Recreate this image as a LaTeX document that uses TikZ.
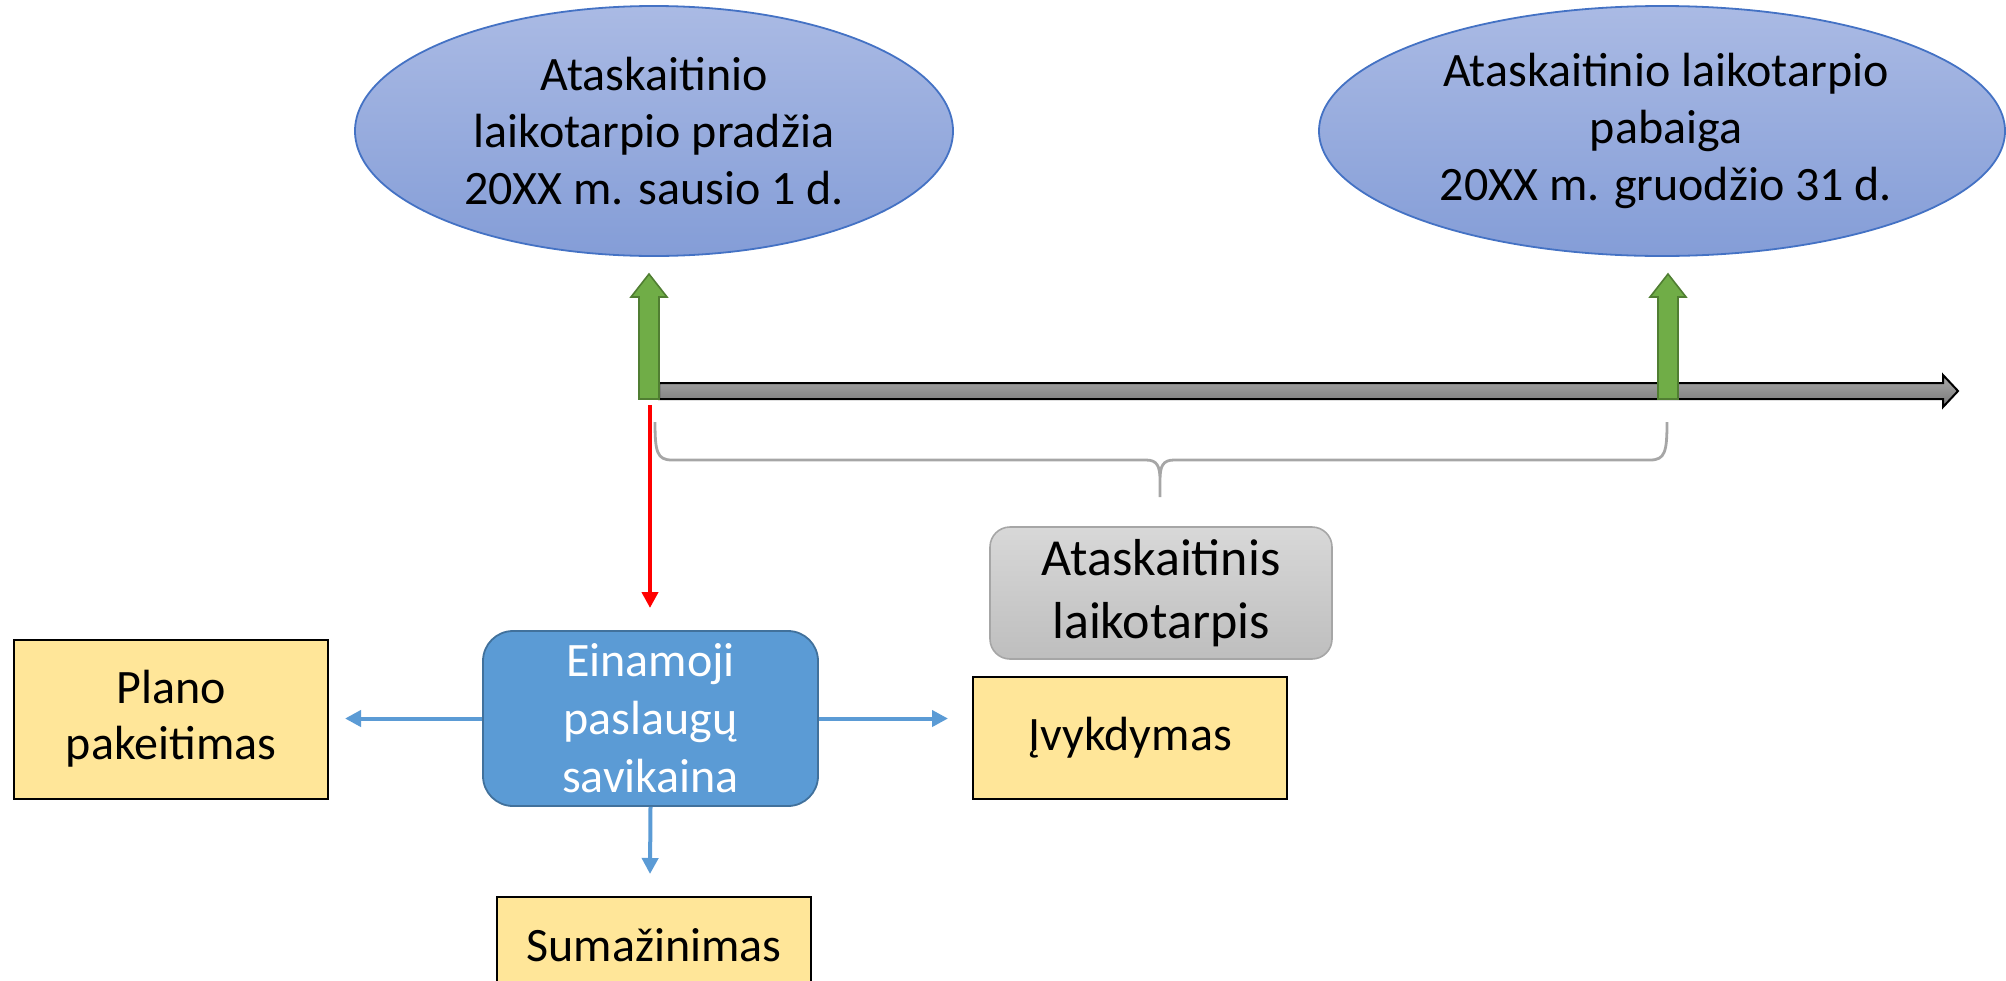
\documentclass[tikz,border=0pt]{standalone}
\usepackage{fontspec}
\setmainfont{Carlito}
\usetikzlibrary{shapes.geometric,arrows.meta,shadings}
\definecolor{ellborder}{RGB}{68,114,196}
\definecolor{elltop}{RGB}{170,186,228}
\definecolor{ellbot}{RGB}{132,157,215}
\definecolor{greenfill}{RGB}{112,173,71}
\definecolor{greenborder}{RGB}{80,126,50}
\definecolor{bluefill}{RGB}{91,155,213}
\definecolor{blueborder}{RGB}{65,113,156}
\definecolor{yellowfill}{RGB}{255,230,153}
\definecolor{graytop}{RGB}{216,216,216}
\definecolor{graybot}{RGB}{190,190,190}
\definecolor{grayborder}{RGB}{166,166,166}
\definecolor{bracegray}{RGB}{166,166,166}
\definecolor{tltop}{RGB}{170,170,170}
\definecolor{tlbot}{RGB}{120,120,120}
\tikzset{
  ell/.style={ellipse, draw=ellborder, line width=0.9pt, top color=elltop, bottom color=ellbot, inner sep=0pt},
  etext/.style={align=center, font=\fontsize{24}{28.5}\selectfont, inner sep=0pt},
  garrow/.style={draw=greenborder, fill=greenfill, line width=0.8pt, line join=miter},
  tline/.style={draw=black, line width=1pt, top color=tltop, bottom color=tlbot},
  bracestyle/.style={draw=bracegray, line width=1.4pt},
  graybox/.style={draw=grayborder, line width=0.8pt, rounded corners=10pt, top color=graytop, bottom color=graybot, inner sep=0pt, minimum width=171pt, minimum height=66pt, align=center, font=\fontsize{26}{31.5}\selectfont},
  bluebox/.style={draw=blueborder, line width=0.9pt, rounded corners=15pt, fill=bluefill, text=white, inner sep=0pt, minimum width=167.5pt, minimum height=87.5pt, align=center, font=\fontsize{24}{29}\selectfont},
  ybox/.style={draw=black, line width=1pt, fill=yellowfill, inner sep=0pt, minimum width=157pt, align=center, font=\fontsize{24}{28}\selectfont},
  barrow/.style={draw=bluefill, line width=2pt, -{Triangle[length=8pt,width=8pt]}},
  rarrow/.style={draw=red, line width=2pt, -{Triangle[length=8pt,width=8pt]}}
}
\begin{document}
\begin{tikzpicture}[x=0.5pt,y=-0.5pt]
\useasboundingbox (0,0) rectangle (2006,980);
% ellipses
\node[ell, minimum width=299pt, minimum height=125pt] (e1) at (654,131) {};
\node[etext] (e1t) at (e1.center) {Ataskaitinio\\laikotarpio pradžia\\20XX m. sausio 1 d.};
\node[ell, minimum width=343pt, minimum height=125pt] (e2) at (1662,131) {};
\node[etext] (e2t) at (1666,131) {Ataskaitinio laikotarpio\\pabaiga\\20XX m. gruodžio 31 d.};
% timeline
\path[tline] (659,383) -- (1943,383) -- (1943,375) -- (1958,391) -- (1943,407) -- (1943,399) -- (659,399) -- cycle;
% green arrows
\path[garrow] (639,399) -- (639,297) -- (631,297) -- (649,274) -- (667,297) -- (659,297) -- (659,399) -- cycle;
\path[garrow] (1658,399) -- (1658,297) -- (1650,297) -- (1668,274) -- (1686,297) -- (1678,297) -- (1678,399) -- cycle;
% brace
\path[bracestyle] (655,422) .. controls (655,452) and (657,460) .. (672,460) -- (1146,460) .. controls (1157,460) and (1160,466) .. (1160,480) -- (1160,497)
  (1160,480) .. controls (1160,466) and (1163,460) .. (1174,460) -- (1650,460) .. controls (1665,460) and (1667,452) .. (1667,422);
% boxes
\node[graybox] (gb) at (1161,593) {Ataskaitinis\\laikotarpis};
\node[bluebox] (bb) at (650.5,718.5) {Einamoji\\paslaugų\\savikaina};
\node[ybox, minimum height=79.5pt] (plano) at (171,719) {Plano\\pakeitimas};
\node[ybox, minimum height=61pt] (ivyk) at (1130,738) {Įvykdymas};
\node[ybox, minimum height=48pt] (suma) at (654,945) {Sumažinimas};
% connectors
\coordinate (rs) at (650,405);
\coordinate (re) at (650,608);
\draw[rarrow] (rs) -- (re);
\coordinate (le) at (345,718.5);
\coordinate (ri) at (948,718.5);
\coordinate (de) at (650,874);
\draw[barrow] (bb.west) -- (le);
\draw[barrow] (bb.east) -- (ri);
\draw[barrow] (bb.south) -- (de);
\end{tikzpicture}
\end{document}
